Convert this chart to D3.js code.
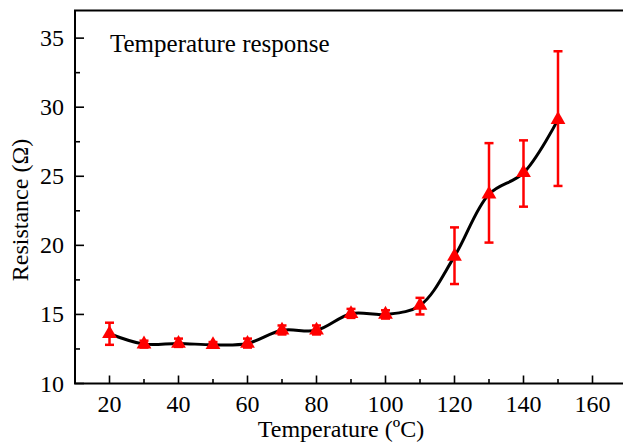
<!DOCTYPE html>
<html>
<head>
<meta charset="utf-8">
<script src="https://d3js.org/d3.v7.min.js"></script>
<style>
  body { margin: 0; background: #fff; }
  svg { display: block; }
</style>
</head>
<body>
<div id="chart"></div>
<script>
// Data
const temps = [20, 30, 40, 50, 60, 70, 80, 90, 100, 110, 120, 130, 140, 150];
const resistance = [13.6, 12.85, 12.9, 12.8, 12.9, 13.85, 13.85, 15.05, 15.0, 15.65, 19.2, 23.7, 25.25, 29.1];
const errUpper = [14.4, 13.1, 13.25, 13.0, 13.25, 14.2, 14.2, 15.4, 15.3, 16.2, 21.3, 27.4, 27.6, 34.05];
const errLower = [12.8, 12.6, 12.65, 12.6, 12.6, 13.55, 13.55, 14.75, 14.7, 15.0, 17.2, 20.2, 22.8, 24.3];
const xTicks = [20, 40, 60, 80, 100, 120, 140, 160];
const yTicks = [10, 15, 20, 25, 30, 35];

const width = 623;
const height = 446;
const plotLeft = 75, plotTop = 10.5, plotRight = 627, plotBottom = 383.5;

const points = temps.map((t, i) => ({ t: t, r: resistance[i], hi: errUpper[i], lo: errLower[i] }));

const svg = d3.select("#chart").append("svg")
    .attr("width", width)
    .attr("height", height);

const x = d3.scaleLinear().domain([10, 170]).range([plotLeft, plotRight]);
const y = d3.scaleLinear().domain([10, 37]).range([plotBottom, plotTop]);

const font = "'Liberation Serif', 'Times New Roman', serif";

// frame (right side runs off the picture)
svg.append("rect")
    .attr("x", plotLeft).attr("y", plotTop)
    .attr("width", plotRight - plotLeft).attr("height", plotBottom - plotTop)
    .attr("fill", "none").attr("stroke", "#000").attr("stroke-width", 2);

// x axis ticks, pointing inward
const xMinor = d3.range(10, 171, 10).filter(v => xTicks.indexOf(v) < 0);
svg.append("g").selectAll("line").data(xTicks).join("line")
    .attr("x1", d => x(d)).attr("x2", d => x(d))
    .attr("y1", plotBottom).attr("y2", plotBottom - 8)
    .attr("stroke", "#000").attr("stroke-width", 1.6);
svg.append("g").selectAll("line").data(xMinor).join("line")
    .attr("x1", d => x(d)).attr("x2", d => x(d))
    .attr("y1", plotBottom).attr("y2", plotBottom - 4.5)
    .attr("stroke", "#000").attr("stroke-width", 1.6);
svg.append("g").selectAll("text").data(xTicks).join("text")
    .attr("x", d => x(d)).attr("y", 412)
    .attr("text-anchor", "middle")
    .style("font-family", font).style("font-size", "24px")
    .text(d => d);

// y axis ticks, pointing inward
const yMinor = d3.range(12.5, 37, 5);
svg.append("g").selectAll("line").data(yTicks).join("line")
    .attr("x1", plotLeft).attr("x2", plotLeft + 9)
    .attr("y1", d => y(d)).attr("y2", d => y(d))
    .attr("stroke", "#000").attr("stroke-width", 1.6);
svg.append("g").selectAll("line").data(yMinor).join("line")
    .attr("x1", plotLeft).attr("x2", plotLeft + 5)
    .attr("y1", d => y(d)).attr("y2", d => y(d))
    .attr("stroke", "#000").attr("stroke-width", 1.6);
svg.append("g").selectAll("text").data(yTicks).join("text")
    .attr("x", 64).attr("y", d => y(d) + 8)
    .attr("text-anchor", "end")
    .style("font-family", font).style("font-size", "24px")
    .text(d => d);

// axis titles
svg.append("text")
    .attr("x", 341).attr("y", 437)
    .attr("text-anchor", "middle")
    .style("font-family", font).style("font-size", "24px")
    .text("Temperature (ºC)");
svg.append("text")
    .attr("transform", "translate(28,210) rotate(-90)")
    .attr("text-anchor", "middle")
    .style("font-family", font).style("font-size", "24px")
    .text("Resistance (Ω)");

// legend-ish label
svg.append("text")
    .attr("x", 110).attr("y", 52)
    .style("font-family", font).style("font-size", "25px")
    .text("Temperature response");

// smooth curve
const line = d3.line()
    .x(d => x(d.t))
    .y(d => y(d.r))
    .curve(d3.curveCatmullRom.alpha(0.5));
svg.append("path")
    .datum(points)
    .attr("d", line)
    .attr("fill", "none")
    .attr("stroke", "#000")
    .attr("stroke-width", 3);

// error bars
const eb = svg.append("g").attr("stroke", "#ff0000").attr("stroke-width", 2.5);
eb.selectAll(".v").data(points).join("line").attr("class", "v")
    .attr("x1", d => x(d.t)).attr("x2", d => x(d.t))
    .attr("y1", d => y(d.hi)).attr("y2", d => y(d.lo));
eb.selectAll(".capHi").data(points).join("line").attr("class", "capHi")
    .attr("x1", d => x(d.t) - 4.5).attr("x2", d => x(d.t) + 4.5)
    .attr("y1", d => y(d.hi)).attr("y2", d => y(d.hi));
eb.selectAll(".capLo").data(points).join("line").attr("class", "capLo")
    .attr("x1", d => x(d.t) - 4.5).attr("x2", d => x(d.t) + 4.5)
    .attr("y1", d => y(d.lo)).attr("y2", d => y(d.lo));

// triangle markers
svg.append("g").selectAll("path").data(points).join("path")
    .attr("d", d3.symbol().type(d3.symbolTriangle).size(95))
    .attr("transform", d => `translate(${x(d.t)},${y(d.r)})`)
    .attr("fill", "#ff0000");
</script>
</body>
</html>
